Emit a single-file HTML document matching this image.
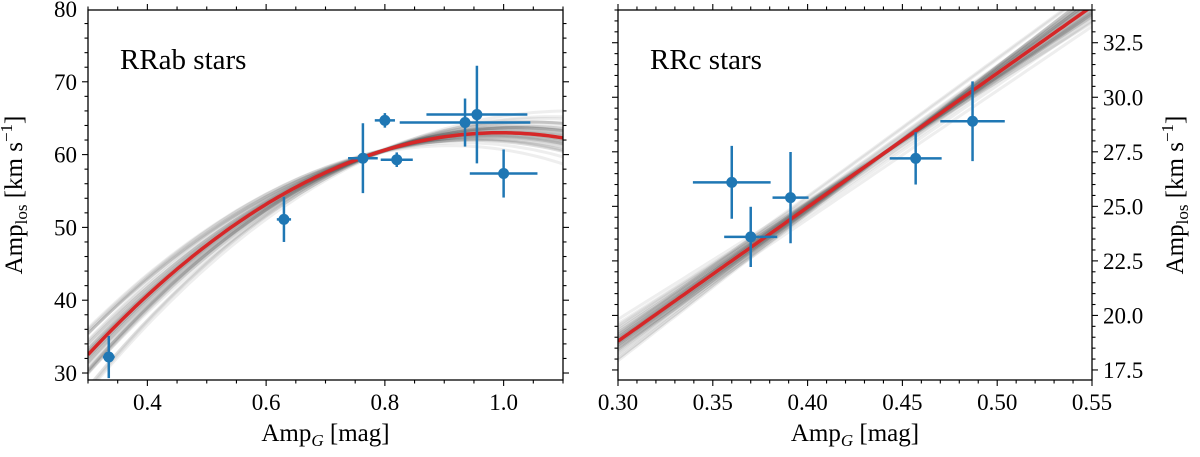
<!DOCTYPE html>
<html><head><meta charset="utf-8"><style>
body{margin:0;background:#fff;}
svg text{font-family:"Liberation Serif","DejaVu Serif",serif;fill:#000;}
</style></head><body>
<svg id="fig" width="1200" height="452" viewBox="0 0 1200 452" xmlns="http://www.w3.org/2000/svg" font-family="Liberation Serif, serif">
<defs>
<clipPath id="clipL"><rect x="88" y="10" width="475" height="370"/></clipPath>
<clipPath id="clipR"><rect x="618" y="10" width="474" height="370"/></clipPath>
</defs>
<g id="left"></g>
<g id="right"></g>
</svg>
<script>
// ---- Left panel data (RRab) ----
const abAmpG = [0.335, 0.63, 0.763, 0.80, 0.82, 0.935, 0.955, 1.0];
const abAmpLos = [32.2, 51.1, 59.5, 64.7, 59.3, 64.4, 65.5, 57.4];
const abXerr = [0.01, 0.012, 0.025, 0.017, 0.027, 0.11, 0.085, 0.057];
const abYerr = [2.9, 3.1, 4.8, 1.0, 1.0, 3.3, 6.7, 3.3];
const abFit = [63.0, 0.994, -63.3]; // peak value, peak x, curvature
const abSampPeak = [0, 0.3, -0.3, 0.7, -0.6, 0.2, -0.2, 1.0, -0.9, 0.5, -0.5, 1.3, -1.1, 0.1, 0.8];
const abSampXp = [0, 0.03, -0.02, 0.06, -0.04, 0.01, 0.05, 0.09, -0.01, -0.05, 0.07, 0.12, 0.02, -0.02, 0.04];
const abSampCurv = [0, 2, -1.5, 5, -4, 3, -2.5, 7, -6, 1, -1, 9, -7.5, 4, -4.5];
const abXTicks = [0.4, 0.6, 0.8, 1.0];
const abXTickLabels = ["0.4", "0.6", "0.8", "1.0"];
const abYTicks = [30, 40, 50, 60, 70, 80];
// ---- Right panel data (RRc) ----
const cAmpG = [0.360, 0.370, 0.391, 0.457, 0.487];
const cAmpLos = [26.1, 23.6, 25.4, 27.2, 28.9];
const cXerr = [0.0205, 0.014, 0.0095, 0.0137, 0.017];
const cYerr = [1.67, 1.38, 2.09, 1.2, 1.83];
const cFit = [18.82, 61.4]; // value at 0.30, slope
const cSampInt = [0, 0.2, -0.2, 0.4, -0.4, 0.6, -0.6, 0.1, -0.1, 0.8, -0.8, 0.3, -0.3, 1.0, -0.9];
const cSampSlope = [0, -1.5, 1.5, -3, 3, -4.5, 4, 1, -1, -6, 5.5, 2, -2.5, -7, 6];
const cXTicks = [0.30, 0.35, 0.40, 0.45, 0.50, 0.55];
const cXTickLabels = ["0.30", "0.35", "0.40", "0.45", "0.50", "0.55"];
const cYTicks = [17.5, 20.0, 22.5, 25.0, 27.5, 30.0, 32.5];

const NS = "http://www.w3.org/2000/svg";
function mk(tag, attrs, parent){const e=document.createElementNS(NS,tag);for(const k in attrs)e.setAttribute(k,attrs[k]);parent.appendChild(e);return e;}

function axes(xmin,xmax,ymin,ymax,L,R,T,B){
  return {x:v=>L+(v-xmin)/(xmax-xmin)*(R-L), y:v=>B-(v-ymin)/(ymax-ymin)*(B-T)};
}

function drawPanel(g, ax, cfg){
  const {L,R,T,B} = cfg;
  const cg = mk('g',{'clip-path':'url(#'+cfg.clip+')'},g);
  
  
  for(let i=0;i<cfg.nSamp;i++){
    let d='';
    for(let k=0;k<=80;k++){
      const xv=cfg.xmin+(cfg.xmax-cfg.xmin)*k/80;
      d+=(k?'L':'M')+ax.x(xv).toFixed(1)+','+ax.y(cfg.samp(i,xv)).toFixed(1);
    }
    const p=mk('path',{d:d,fill:'none',stroke:'#444','stroke-width':3,'stroke-opacity':0.09},cg);
    
    
  }
  let d='';
  for(let k=0;k<=100;k++){
    const xv=cfg.xmin+(cfg.xmax-cfg.xmin)*k/100;
    d+=(k?'L':'M')+ax.x(xv).toFixed(1)+','+ax.y(cfg.fit(xv)).toFixed(1);
  }
  const fp=mk('path',{d:d,fill:'none',stroke:'#d62728','stroke-width':3.5},cg);
  
  
  const pg=mk('g',{'clip-path':'url(#'+cfg.clip+')'},g);
  for(let i=0;i<cfg.xs.length;i++){
    const px=ax.x(cfg.xs[i]), py=ax.y(cfg.ys[i]);
    const eb=mk('g',{stroke:'#1f77b4','stroke-width':2.5},pg);
    
    
    mk('line',{x1:ax.x(cfg.xs[i]-cfg.xe[i]),x2:ax.x(cfg.xs[i]+cfg.xe[i]),y1:py,y2:py},eb);
    mk('line',{x1:px,x2:px,y1:ax.y(cfg.ys[i]-cfg.ye[i]),y2:ax.y(cfg.ys[i]+cfg.ye[i])},eb);
    const c=mk('circle',{cx:px,cy:py,r:5.5,fill:'#1f77b4'},pg);
    
    
  }
  const fr=mk('rect',{x:L,y:T,width:R-L,height:B-T,fill:'none',stroke:'#000','stroke-width':1.3},g);
  
  
  const tg=mk('g',{stroke:'#000','stroke-width':1.1},g);
  for(let v=cfg.xmin;v<=cfg.xmax+1e-9;v+=cfg.xminor){
    const px=ax.x(v); const major=cfg.xTicks.some(t=>Math.abs(t-v)<1e-6); const len=major?6:3.5;
    mk('line',{x1:px,x2:px,y1:B,y2:B+len},tg); mk('line',{x1:px,x2:px,y1:T,y2:T-len},tg);
  }
  for(let v=Math.ceil(cfg.ymin/cfg.yminor)*cfg.yminor;v<=cfg.ymax+1e-9;v+=cfg.yminor){
    const py=ax.y(v); const major=cfg.yTicks.some(t=>Math.abs(t-v)<1e-6); const len=major?6:3.5;
    mk('line',{x1:L,x2:L-len,y1:py,y2:py},tg); mk('line',{x1:R,x2:R+len,y1:py,y2:py},tg);
  }
  cfg.xTicks.forEach((t,i)=>{
    const tx=mk('text',{x:ax.x(t),y:B+30,'font-size':23,'text-anchor':'middle','font-family':'Liberation Serif, serif'},g);
    tx.textContent=cfg.xTickLabels[i];
    
    
  });
  cfg.yTicks.forEach(t=>{
    const right=cfg.yRight;
    const tx=mk('text',{x:right?R+11:L-11,y:ax.y(t)+8,'font-size':23,'text-anchor':right?'start':'end','font-family':'Liberation Serif, serif'},g);
    tx.textContent=cfg.yFmt(t);
    
    
  });
  const xl=mk('text',{x:(L+R)/2,y:441,'font-size':25,'text-anchor':'middle','font-family':'Liberation Serif, serif'},g);
  xl.innerHTML='Amp<tspan font-style="italic" font-size="17" dy="5">G</tspan><tspan dy="-5"> [mag]</tspan>';
  
  
  const yx=cfg.yRight?1183:22, yc=(T+B)/2;
  const yl=mk('text',{x:yx,y:yc,'font-size':25,'text-anchor':'middle','font-family':'Liberation Serif, serif',transform:'rotate(-90 '+yx+' '+yc+')'},g);
  yl.innerHTML='Amp<tspan font-size="17" dy="5">los</tspan><tspan dy="-5"> [km s</tspan><tspan font-size="17" dy="-10">−1</tspan><tspan dy="10">]</tspan>';
  
  
  const tt=mk('text',{x:L+32,y:69,'font-size':29,'font-family':'Liberation Serif, serif'},g);
  tt.textContent=cfg.title;
  
  
}

{
  const L=88,R=563,T=10,B=380;
  const ax=axes(0.3,1.1,29.04,79.86,L,R,T,B);
  drawPanel(document.getElementById('left'),ax,{L,R,T,B,clip:'clipL',xmin:0.3,xmax:1.1,ymin:29.04,ymax:79.86,
    xminor:0.05,yminor:2,xTicks:abXTicks,xTickLabels:abXTickLabels,yTicks:abYTicks,yFmt:v=>String(v),yRight:false,
    title:'RRab stars',xs:abAmpG,ys:abAmpLos,xe:abXerr,ye:abYerr,nSamp:abSampPeak.length*3,
    fit:x=>abFit[0]+abFit[2]*Math.pow(x-abFit[1],2),
    samp:(i,x)=>{const j=i%abSampPeak.length, s=[1,0.5,-0.7][Math.floor(i/abSampPeak.length)];
      const xp=abFit[1]+abSampXp[j]*s, c=abFit[2]+abSampCurv[j]*s;
      const pk=abFit[0]+abSampPeak[j]*s;
      const base=pk+c*Math.pow(x-xp,2); const piv=pk+c*Math.pow(0.75-xp,2);
      return base-(piv-(abFit[0]+abFit[2]*Math.pow(0.75-abFit[1],2)))*0.8;}
  });
}
{
  const L=618,R=1092,T=10,B=380;
  const ax=axes(0.3,0.55,17.04,34.0,L,R,T,B);
  drawPanel(document.getElementById('right'),ax,{L,R,T,B,clip:'clipR',xmin:0.3,xmax:0.55,ymin:17.04,ymax:34.0,
    xminor:0.01,yminor:0.5,xTicks:cXTicks,xTickLabels:cXTickLabels,yTicks:cYTicks,yFmt:v=>v.toFixed(1),yRight:true,
    title:'RRc stars',xs:cAmpG,ys:cAmpLos,xe:cXerr,ye:cYerr,nSamp:cSampInt.length*3,
    fit:x=>cFit[0]+cFit[1]*(x-0.3),
    samp:(i,x)=>{const j=i%cSampInt.length, s=[1,0.5,-0.8][Math.floor(i/cSampInt.length)];
      return cFit[0]+cSampInt[j]*s+(cFit[1]+cSampSlope[j]*s)*(x-0.3);}
  });
}
</script>
</body></html>
